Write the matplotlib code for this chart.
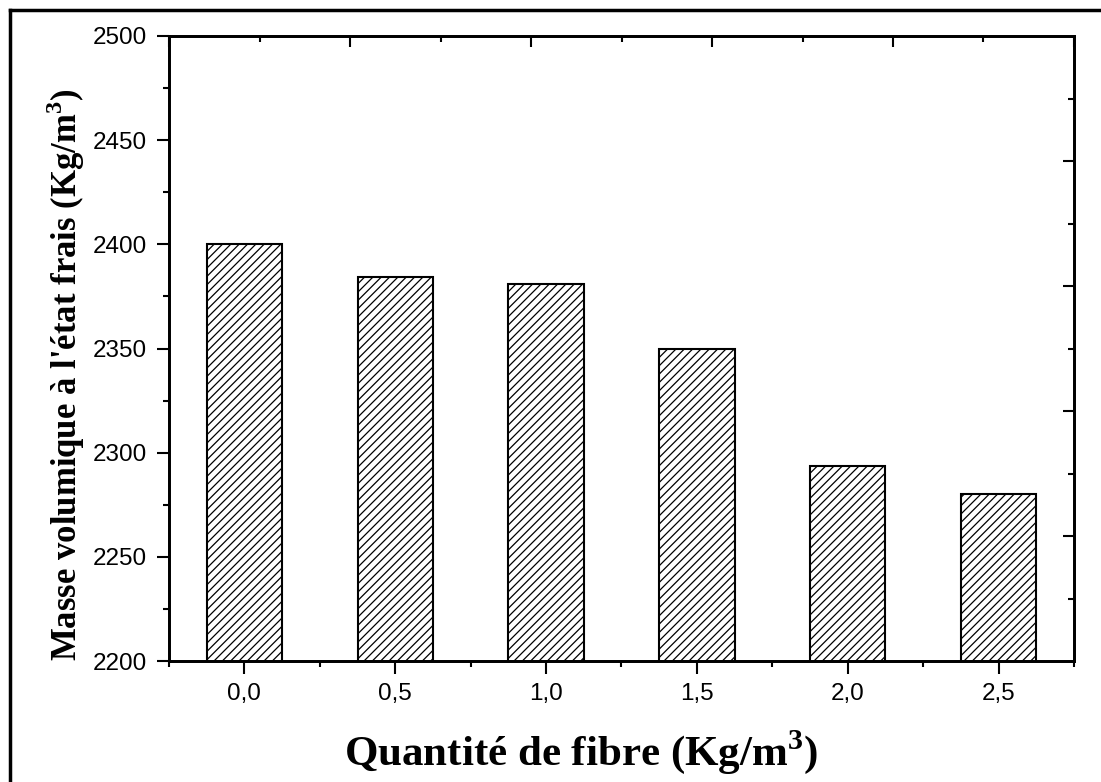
import matplotlib
matplotlib.use("Agg")
import matplotlib.pyplot as plt
import numpy as np
from matplotlib.lines import Line2D
from matplotlib.ticker import MultipleLocator, FixedLocator

# data
fibre = [0.0, 0.5, 1.0, 1.5, 2.0, 2.5]
fibre_labels = ["0,0", "0,5", "1,0", "1,5", "2,0", "2,5"]
masse = [2400, 2384.5, 2381, 2350, 2293.5, 2280]

plt.rcParams['mathtext.fontset'] = 'custom'
plt.rcParams['mathtext.rm'] = 'Liberation Serif:bold'
plt.rcParams['mathtext.bf'] = 'Liberation Serif:bold'
plt.rcParams['hatch.linewidth'] = 0.9
plt.rcParams['hatch.color'] = 'black'


def main():
    fig = plt.figure(figsize=(11.01, 7.82), dpi=100)
    ax = fig.add_axes([169 / 1101, 1 - 661 / 782, 905 / 1101, 625 / 782])

    ax.bar(fibre, masse, width=0.25, bottom=0, color='white',
           edgecolor='black', linewidth=1.5, hatch='////', zorder=2)

    ax.set_xlim(-0.25, 2.75)
    ax.set_ylim(2200, 2500)

    # bottom / left axes
    ax.set_xticks(fibre)
    ax.set_xticklabels(fibre_labels)
    ax.xaxis.set_minor_locator(FixedLocator(np.arange(-0.25, 2.8, 0.5)))
    ax.yaxis.set_major_locator(MultipleLocator(50))
    ax.yaxis.set_minor_locator(MultipleLocator(25))
    ax.tick_params(which='major', direction='out', length=9, width=1.5,
                   labelsize=17.5, pad=7)
    ax.tick_params(which='minor', direction='out', length=4.5, width=1.5)
    for lab in ax.get_xticklabels() + ax.get_yticklabels():
        lab.set_fontfamily('Liberation Sans')
    for s in ax.spines.values():
        s.set_linewidth(1.8)

    # top axis (inward ticks, no labels)
    top = ax.twiny()
    top.set_xlim(-0.25, 2.75)
    top.xaxis.set_major_locator(FixedLocator(np.linspace(-0.25, 2.75, 6)))
    top.xaxis.set_minor_locator(FixedLocator(np.linspace(0.05, 2.45, 5)))
    top.tick_params(which='major', direction='in', length=8, width=1.5, labeltop=False)
    top.tick_params(which='minor', direction='in', length=4, width=1.5)

    # right axis (inward ticks, no labels)
    right = ax.twinx()
    right.set_ylim(2200, 2500)
    right.yaxis.set_major_locator(FixedLocator([2260, 2320, 2380, 2440]))
    right.yaxis.set_minor_locator(FixedLocator([2230, 2290, 2350, 2410, 2470]))
    right.tick_params(which='major', direction='in', length=8, width=1.5, labelright=False)
    right.tick_params(which='minor', direction='in', length=4, width=1.5)
    for a in (top, right):
        for s in a.spines.values():
            s.set_linewidth(1.8)

    ax.set_xlabel('Quantité de fibre (Kg/m$^{3}$)', fontfamily='Liberation Serif',
                  fontweight='bold', fontsize=31, va='center')
    ax.xaxis.set_label_coords(0.455, -0.146)
    ax.set_ylabel("Masse volumique à l'état frais (Kg/m$^{3}$)", fontfamily='Liberation Serif',
                  fontweight='bold', fontsize=25, va='center')
    ax.yaxis.set_label_coords(-0.114, 0.458)

    # outer frame lines (top and left)
    fig.add_artist(Line2D([10 / 1101, 1], [1 - 10 / 782] * 2, color='black', lw=2.5,
                          transform=fig.transFigure))
    fig.add_artist(Line2D([10 / 1101] * 2, [0, 1 - 10 / 782], color='black', lw=2.5,
                          transform=fig.transFigure))

    fig.savefig('out.png', dpi=100)


if __name__ == "__main__":
    main()
